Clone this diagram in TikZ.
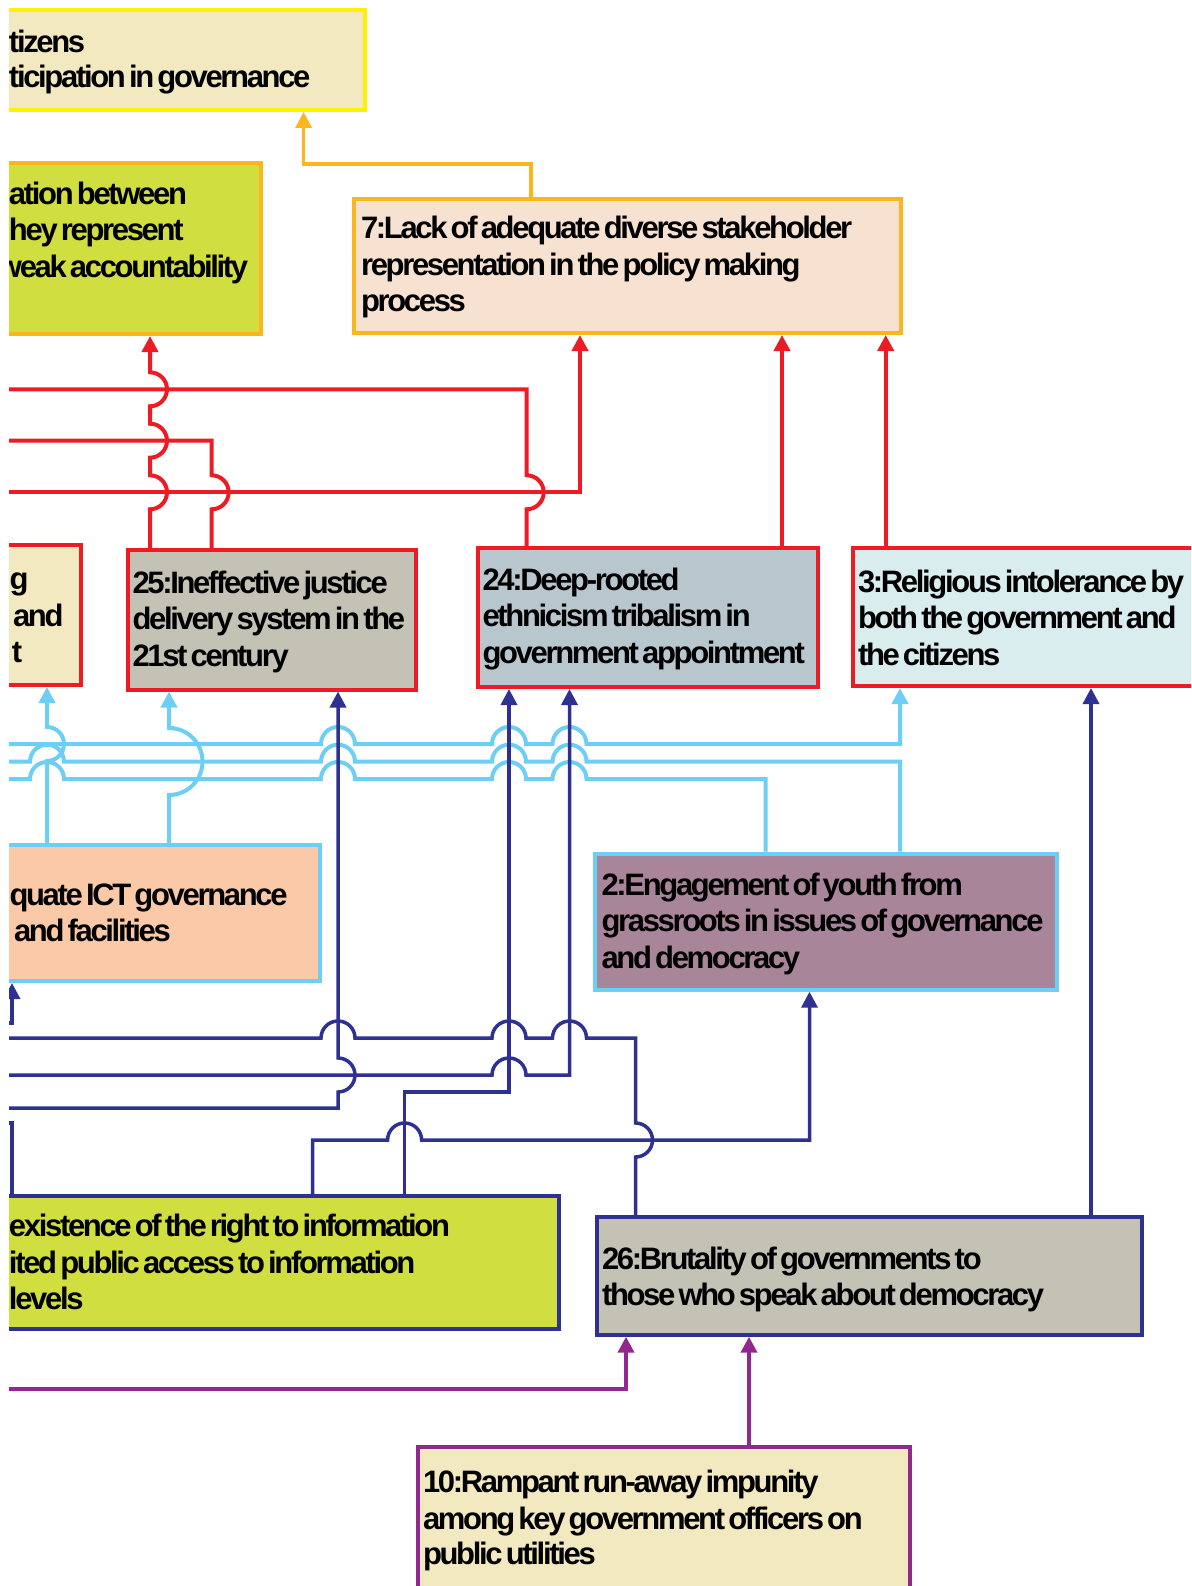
\documentclass[tikz,border=0pt]{standalone}
\usepackage{fontspec}
\newfontfamily\boxfont{Liberation Sans}[LetterSpace=-7.5,WordSpace=0.5]
\usetikzlibrary{arrows.meta}
% line and fill colours
\definecolor{cred}{RGB}{237,28,36}
\definecolor{cyel}{RGB}{255,242,0}
\definecolor{corg}{RGB}{251,182,30}
\definecolor{clb}{RGB}{109,207,246}
\definecolor{cnavy}{RGB}{46,49,146}
\definecolor{cpur}{RGB}{146,39,143}
\definecolor{fbeige}{RGB}{242,233,193}
\definecolor{fgreen}{RGB}{208,222,63}
\definecolor{fpeach}{RGB}{247,226,210}
\definecolor{fgray}{RGB}{195,194,181}
\definecolor{fblue}{RGB}{184,198,205}
\definecolor{fcyan}{RGB}{217,237,238}
\definecolor{fsalmon}{RGB}{249,201,168}
\definecolor{fmauve}{RGB}{169,133,153}
\begin{document}
\begin{tikzpicture}[x=1pt,y=-1pt,
  box/.style={draw, line width=4pt, anchor=north west, inner sep=0pt, outer sep=2pt},
  lbl/.style={anchor=base west, inner sep=0pt, outer sep=0pt, text=black,
    font=\boxfont\bfseries\fontsize{31pt}{36pt}\selectfont},
  tip/.style={-{Triangle[width=16pt,length=16pt]}},
  redln/.style={draw=cred, line width=4pt},
  orgln/.style={draw=corg, line width=3.5pt},
  lbln/.style={draw=clb, line width=4pt},
  navln/.style={draw=cnavy, line width=3.5pt},
  purln/.style={draw=cpur, line width=4pt}]
\fill[white] (0,0) rectangle (1191,1586);
\useasboundingbox (0,0) rectangle (1191,1586);
\begin{scope}
\clip (9,0) rectangle (1191,1586);

% ---------- boxes ----------
\node[box, draw=cyel, fill=fbeige, minimum width=423pt, minimum height=100pt] (bA) at (-60,8) {};
\node[box, draw=corg, fill=fgreen, minimum width=319pt, minimum height=171pt] (bB) at (-60,161) {};
\node[box, draw=corg, fill=fpeach, minimum width=547.5pt, minimum height=134pt] (b7) at (351.5,197) {};
\node[box, draw=cred, fill=fbeige, minimum width=138.7pt, minimum height=140.3pt] (bL) at (-60,542.7) {};
\node[box, draw=cred, fill=fgray, minimum width=288.5pt, minimum height=139.5pt] (b25) at (125.5,548) {};
\node[box, draw=cred, fill=fblue, minimum width=340pt, minimum height=139pt] (b24) at (476,546) {};
\node[box, draw=cred, fill=fcyan, minimum width=405.3pt, minimum height=138.5pt] (b3) at (850.7,545.5) {};
\node[box, draw=clb, fill=fsalmon, minimum width=377.7pt, minimum height=136pt] (bICT) at (-60,843) {};
\node[box, draw=clb, fill=fmauve, minimum width=461.7pt, minimum height=136pt] (b2) at (593.3,851.7) {};
\node[box, draw=cnavy, fill=fgreen, minimum width=616.6pt, minimum height=132.7pt] (bG) at (-60,1194) {};
\node[box, draw=cnavy, fill=fgray, minimum width=544.5pt, minimum height=117.7pt] (b26) at (595,1215) {};
\node[box, draw=cpur, fill=fbeige, minimum width=491.7pt, minimum height=201pt] (b10) at (416,1445) {};

% ---------- texts ----------
\node[lbl] (tA1) at (9,53) {tizens};
\node[lbl] (tA2) at (9,88) {ticipation in governance};
\node[lbl] (tB1) at (9,205) {ation between};
\node[lbl] (tB2) at (9,241) {hey represent};
\node[lbl] (tB3) at (-2,278) {weak accountability};
\node[lbl] (t7a) at (361,239) {7:Lack of adequate diverse stakeholder};
\node[lbl] (t7b) at (361,275.5) {representation in the policy making};
\node[lbl] (t7c) at (361,312) {process};
\node[lbl] (tL1) at (9.5,589) {g};
\node[lbl] (tL2) at (13,626) {and};
\node[lbl] (tL3) at (12,662) {t};
\node[lbl] (t25a) at (132.5,593) {25:Ineffective justice};
\node[lbl] (t25b) at (132.5,629.5) {delivery system in the};
\node[lbl] (t25c) at (132.5,666) {21st century};
\node[lbl] (t24a) at (482.5,590) {24:Deep-rooted};
\node[lbl] (t24b) at (482.5,626.5) {ethnicism tribalism in};
\node[lbl] (t24c) at (482.5,663) {government appointment};
\node[lbl] (t3a) at (858,592) {3:Religious intolerance by};
\node[lbl] (t3b) at (858,628.5) {both the government and};
\node[lbl] (t3c) at (858,665) {the citizens};
\node[lbl] (tIa) at (9.5,905.5) {quate ICT governance};
\node[lbl] (tIb) at (14,941.5) {and facilities};
\node[lbl] (t2a) at (601.5,895) {2:Engagement of youth from};
\node[lbl] (t2b) at (601.5,931.5) {grassroots in issues of governance};
\node[lbl] (t2c) at (601.5,968) {and democracy};
\node[lbl] (tGa) at (9,1236.5) {existence of the right to information};
\node[lbl] (tGb) at (9,1273) {ited public access to information};
\node[lbl] (tGc) at (9,1309.5) {levels};
\node[lbl] (t26a) at (602,1269) {26:Brutality of governments to};
\node[lbl] (t26b) at (602,1305.5) {those who speak about democracy};
\node[lbl] (t10a) at (423,1492.5) {10:Rampant run-away impunity};
\node[lbl] (t10b) at (423,1529) {among key government officers on};
\node[lbl] (t10c) at (423,1564.5) {public utilities};

% ---------- red connectors ----------
\draw[redln, tip] ([xshift=24.5pt]b25.north west) -- (150,509.3)
  arc[start angle=-90, end angle=90, radius=17pt] -- (150,457.7)
  arc[start angle=-90, end angle=90, radius=17pt] -- (150,406.3)
  arc[start angle=-90, end angle=90, radius=17pt] -- ([xshift=210pt]bB.south west);
\draw[redln] ([xshift=86.2pt]b25.north west) -- (211.7,509.3)
  arc[start angle=-90, end angle=90, radius=17pt] -- (211.7,440.7) -- (-60,440.7);
\draw[redln] ([xshift=50.7pt]b24.north west) -- (526.7,509.3)
  arc[start angle=-90, end angle=90, radius=17pt] -- (526.7,389.3) -- (-60,389.3);
\draw[redln, tip] (-60,492.3) -- (580,492.3) -- ([xshift=228.5pt]b7.south west);
\draw[redln, tip] ([xshift=306pt]b24.north west) -- ([xshift=430.5pt]b7.south west);
\draw[redln, tip] ([xshift=35pt]b3.north west) -- ([xshift=534.2pt]b7.south west);

% ---------- orange connector ----------
\draw[orgln, tip] ([xshift=179.5pt]b7.north west) -- (531,164) -- (303.6,164)
  -- ([xshift=363.6pt]bA.south west);

% ---------- light blue connectors ----------
\draw[lbln, tip] ([xshift=107pt]bICT.north west) -- (47,761)
  arc[start angle=-90, end angle=90, radius=17pt] -- ([xshift=107pt]bL.south west);
\draw[lbln, tip] ([xshift=229pt]bICT.north west) -- (169,795)
  arc[start angle=-90, end angle=90, radius=33.5pt] -- ([xshift=43.5pt]b25.south west);
\draw[lbln, tip] (-60,744) -- (321,744)
  arc[start angle=180, end angle=0, radius=17pt] -- (492,744)
  arc[start angle=180, end angle=0, radius=17pt] -- (552.5,744)
  arc[start angle=180, end angle=0, radius=17pt] -- (900,744)
  -- ([xshift=49.3pt]b3.south west);
\draw[lbln] ([xshift=306.7pt]b2.north west) -- (900,761.7) -- (586.5,761.7)
  arc[start angle=0, end angle=180, radius=17pt] -- (526,761.7)
  arc[start angle=0, end angle=180, radius=17pt] -- (355,761.7)
  arc[start angle=0, end angle=180, radius=17pt] -- (64,761.7)
  arc[start angle=0, end angle=180, radius=17pt] -- (-60,761.7);
\draw[lbln] ([xshift=172.4pt]b2.north west) -- (765.7,779) -- (586.5,779)
  arc[start angle=0, end angle=180, radius=17pt] -- (526,779)
  arc[start angle=0, end angle=180, radius=17pt] -- (355,779)
  arc[start angle=0, end angle=180, radius=17pt] -- (64,779)
  arc[start angle=0, end angle=180, radius=17pt] -- (-60,779);

% ---------- navy connectors ----------
\draw[navln, tip] (-60,1108) -- (338,1108) -- (338,1092)
  arc[start angle=-90, end angle=90, radius=17pt] -- ([xshift=212.5pt]b25.south west);
\draw[navln, tip] ([xshift=464.6pt]bG.north west) -- (404.6,1092) -- (509,1092)
  -- ([xshift=33pt]b24.south west);
\draw[navln, tip] (-60,1075) -- (492,1075)
  arc[start angle=180, end angle=0, radius=17pt] -- (569.5,1075)
  -- ([xshift=93.5pt]b24.south west);
\draw[navln] ([xshift=40.5pt]b26.north west) -- (635.5,1157)
  arc[start angle=-90, end angle=90, radius=17pt] -- (635.5,1038) -- (586.5,1038)
  arc[start angle=0, end angle=180, radius=17pt] -- (526,1038)
  arc[start angle=0, end angle=180, radius=17pt] -- (355,1038)
  arc[start angle=0, end angle=180, radius=17pt] -- (-60,1038);
\draw[navln, tip] ([xshift=372.7pt]bG.north west) -- (312.7,1140) -- (387.6,1140)
  arc[start angle=180, end angle=0, radius=17pt] -- (809.5,1140)
  -- ([xshift=216.2pt]b2.south west);
\draw[navln, tip] ([xshift=496pt]b26.north west) -- ([xshift=240.3pt]b3.south west);
\draw[navln, tip] (-60,1023) -- (12,1023) -- ([xshift=72pt]bICT.south west);
\draw[navln] ([xshift=72pt]bG.north west) -- (12,1123) -- (-60,1123);

% ---------- purple connectors ----------
\draw[purln, tip] (-60,1389) -- (626,1389) -- ([xshift=31pt]b26.south west);
\draw[purln, tip] ([xshift=333pt]b10.north west) -- ([xshift=154pt]b26.south west);
\end{scope}
\end{tikzpicture}
\end{document}
